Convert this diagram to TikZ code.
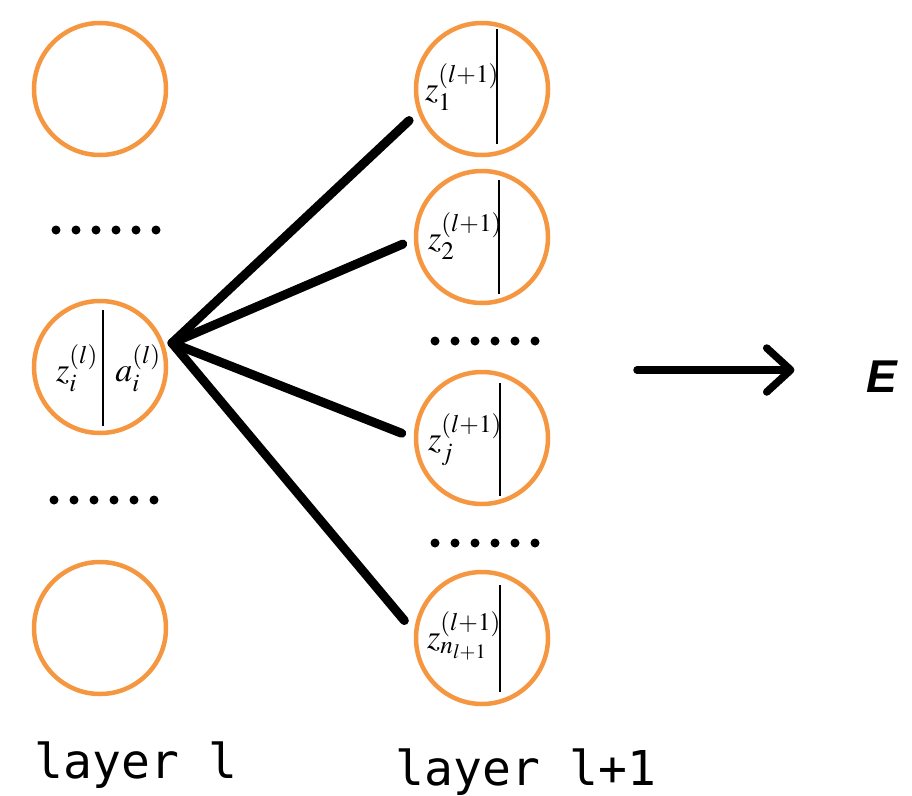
\documentclass[tikz,border=0pt]{standalone}
\usepackage{mathptmx}
\usepackage{fontspec}
\setmonofont{DejaVu Sans Mono}
\newfontfamily\headsf{Liberation Sans}
\usetikzlibrary{arrows.meta}
\definecolor{unitorange}{RGB}{245,150,65}

\begin{document}
\begin{tikzpicture}[x=1pt,y=-1pt,
  unit/.style={circle,draw=unitorange,line width=4.5pt,minimum size=132pt,inner sep=0pt},
  zlab/.style={inner sep=0pt,font=\fontsize{34}{34}\selectfont},
  divider/.style={draw=black,line width=2.8pt},
  wire/.style={draw=black,line width=9pt,line cap=round},
  layerlab/.style={inner sep=0pt,font=\fontsize{48}{48}\ttfamily}]
\useasboundingbox (0,0) rectangle (912,795);
% layer l:
\node[unit] (l1) at (100,89) {};
\node[unit] (li) at (100,367) {};
\node[unit] (l3) at (100,628) {};
\foreach \k in {0,...,5} \fill (56+20*\k,230) circle (4.5pt);
\foreach \k in {0,...,5} \fill (54+20*\k,500) circle (4.5pt);
\draw[divider] ([xshift=3pt,yshift=57pt]li.center) -- ([xshift=3pt,yshift=-59pt]li.center);
\node[zlab] (liz) at (77,368) {$z_i^{(l)}$};
\node[zlab] (lia) at (138,368) {$a_i^{(l)}$};
% layer l+1:
\node[unit] (r1) at (482,89) {};
\node[unit] (r2) at (482,237) {};
\node[unit] (rj) at (482,438) {};
\node[unit] (rn) at (482,638) {};
\foreach \k in {0,...,5} \fill (435+20*\k,341) circle (4.5pt);
\foreach \k in {0,...,5} \fill (435+20*\k,543) circle (4.5pt);
\draw[divider] ([xshift=15pt,yshift=60pt]r1.center) -- ([xshift=15pt,yshift=-55pt]r1.center);
\draw[divider] ([xshift=17pt,yshift=57pt]r2.center) -- ([xshift=17pt,yshift=-57pt]r2.center);
\draw[divider] ([xshift=18pt,yshift=55pt]rj.center) -- ([xshift=18pt,yshift=-58pt]rj.center);
\draw[divider] ([xshift=18pt,yshift=53pt]rn.center) -- ([xshift=18pt,yshift=-54pt]rn.center);
\node[zlab,anchor=west] (r1z) at (425,87) {$z_1^{(l+1)}$};
\node[zlab,anchor=west] (r2z) at (428,236) {$z_2^{(l+1)}$};
\node[zlab,anchor=west] (rjz) at (428,440) {$z_j^{(l+1)}$};
\node[zlab,anchor=west] (rnz) at (427,636) {$z_{n_{l+1}}^{(l+1)}$};
% wires:
\coordinate (hub) at (172,343);
\draw[wire,shorten >=12pt] (hub) -- (r1.200);
\draw[wire,shorten >=12pt] (hub) -- (r2.182);
\draw[wire,shorten >=13pt] (hub) -- (rj.180);
\draw[wire,shorten >=15pt] (hub) -- (rn.175);
% output:
\node[inner sep=0pt,font=\fontsize{46}{46}\headsf\bfseries\itshape] (E) at (882,377) {E};
\coordinate (arrtail) at (637,370);
\draw[line width=7.5pt,line cap=round,shorten >=72pt,
  -{Straight Barb[length=24pt,width=44pt,line cap=round,line join=round]}] (arrtail) -- (arrtail -| E.west);
% labels:
\node[layerlab,anchor=base] (labl) at (136,778) {layer l};
\node[layerlab,anchor=base] (lablp) at (526,785) {layer l+1};
\end{tikzpicture}
\end{document}
